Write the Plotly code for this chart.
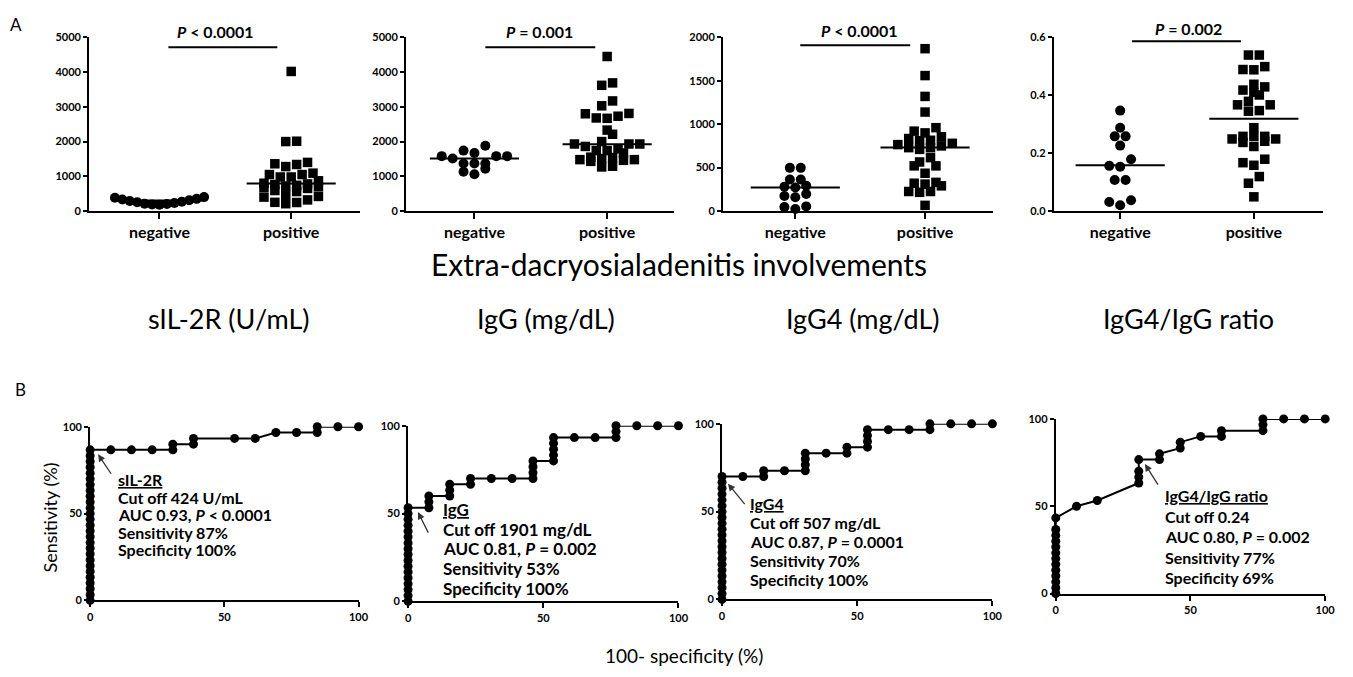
import numpy as np
import plotly.graph_objects as go

# ---------------- data ----------------
categories = ["negative", "positive"]

sil2r_neg = [400, 380, 350, 330, 310, 290, 270, 250, 230, 210, 200, 190, 180]
sil2r_pos = [4020, 2000, 2010, 1400, 1340, 1280, 1360, 1050, 980, 980, 1050, 1090, 870,
             800, 760, 720, 680, 700, 740, 780, 480, 420, 590, 560, 650, 400, 250, 210, 245, 320]
igg_neg = [1740, 1580, 1580, 1880, 1510, 1580, 1670, 1370, 1220, 1060, 1130, 1370, 1370]
igg_pos = [4450, 3620, 3690, 3170, 3030, 2810, 2730, 2670, 2680, 2800, 2330, 2210, 1930, 1930,
           2000, 1930, 1790, 1740, 1670, 1740, 1860, 1550, 1510, 1480, 1460, 1270, 1290, 1430, 1480, 1540]
igg4_neg = [497, 497, 362, 362, 279, 270, 290, 173, 158, 195, 53, 23, 45]
igg4_pos = [1870, 1560, 1320, 1140, 960, 920, 900, 855, 835, 810, 815, 780, 765, 730, 710, 730,
            750, 615, 565, 520, 520, 435, 320, 330, 310, 290, 225, 215, 225, 65]
ratio_neg = [0.347, 0.288, 0.258, 0.258, 0.226, 0.179, 0.153, 0.156, 0.107, 0.107, 0.037, 0.020, 0.031]
ratio_pos = [0.539, 0.539, 0.499, 0.488, 0.489, 0.438, 0.418, 0.401, 0.410, 0.429, 0.367, 0.347,
             0.345, 0.367, 0.379, 0.288, 0.258, 0.258, 0.249, 0.241, 0.223, 0.237, 0.249, 0.258,
             0.179, 0.158, 0.167, 0.119, 0.096, 0.049]

sil2r_median = [300, 790]
igg_median = [1510, 1920]
igg4_median = [271, 731]
ratio_median = [0.158, 0.319]

p_texts = ["<i>P</i> < 0.0001", "<i>P</i> = 0.001", "<i>P</i> < 0.0001", "<i>P</i> = 0.002"]
top_labels = ["sIL-2R (U/mL)", "IgG (mg/dL)", "IgG4 (mg/dL)", "IgG4/IgG ratio"]
top_yticks = [[0, 1000, 2000, 3000, 4000, 5000], [0, 1000, 2000, 3000, 4000, 5000],
              [0, 500, 1000, 1500, 2000], [0.0, 0.2, 0.4, 0.6]]

# ROC curves: 100-specificity (%) and sensitivity (%)
roc_sil2r_fpr = [0, 0, 0, 0, 0, 0, 0, 0, 0, 0, 0, 0, 0, 0, 0, 0, 0, 0, 0, 0, 0, 0, 0, 0, 0, 0, 0,
                 7.7, 15.4, 23.1, 30.8, 30.8, 38.5, 38.5, 53.8, 61.5, 69.2, 76.9, 84.6, 84.6, 92.3, 100]
roc_sil2r_tpr = [0, 3.3, 6.7, 10, 13.3, 16.7, 20, 23.3, 26.7, 30, 33.3, 36.7, 40, 43.3, 46.7, 50,
                 53.3, 56.7, 60, 63.3, 66.7, 70, 73.3, 76.7, 80, 83.3, 86.7,
                 86.7, 86.7, 86.7, 86.7, 90, 90, 93.3, 93.3, 93.3, 96.7, 96.7, 96.7, 100, 100, 100]
roc_igg_fpr = [0, 0, 0, 0, 0, 0, 0, 0, 0, 0, 0, 0, 0, 0, 0, 0, 0,
               7.7, 7.7, 7.7, 15.4, 15.4, 15.4, 23.1, 23.1, 30.8, 38.5, 46.2, 46.2, 46.2, 46.2,
               53.8, 53.8, 53.8, 53.8, 53.8, 61.5, 69.2, 76.9, 76.9, 76.9, 84.6, 92.3, 100]
roc_igg_tpr = [0, 3.3, 6.7, 10, 13.3, 16.7, 20, 23.3, 26.7, 30, 33.3, 36.7, 40, 43.3, 46.7, 50, 53.3,
               53.3, 56.7, 60, 60, 63.3, 66.7, 66.7, 70, 70, 70, 70, 73.3, 76.7, 80,
               80, 83.3, 86.7, 90, 93.3, 93.3, 93.3, 93.3, 96.7, 100, 100, 100, 100]
roc_igg4_fpr = [0, 0, 0, 0, 0, 0, 0, 0, 0, 0, 0, 0, 0, 0, 0, 0, 0, 0, 0, 0, 0, 0,
                7.7, 15.4, 15.4, 23.1, 30.8, 30.8, 30.8, 30.8, 38.5, 46.2, 46.2, 53.8, 53.8, 53.8,
                53.8, 61.5, 69.2, 76.9, 76.9, 84.6, 92.3, 100]
roc_igg4_tpr = [0, 3.3, 6.7, 10, 13.3, 16.7, 20, 23.3, 26.7, 30, 33.3, 36.7, 40, 43.3, 46.7, 50,
                53.3, 56.7, 60, 63.3, 66.7, 70,
                70, 70, 73.3, 73.3, 73.3, 76.7, 80, 83.3, 83.3, 83.3, 86.7, 86.7, 90, 93.3,
                96.7, 96.7, 96.7, 96.7, 100, 100, 100, 100]
roc_ratio_fpr = [0, 0, 0, 0, 0, 0, 0, 0, 0, 0, 0, 0, 0,
                 7.7, 15.4, 30.8, 30.8, 30.8, 30.8, 38.5, 38.5, 46.2, 46.2, 53.8, 61.5, 61.5,
                 76.9, 76.9, 76.9, 84.6, 92.3, 100]
roc_ratio_tpr = [0, 3.3, 6.7, 10, 13.3, 16.7, 20, 23.3, 26.7, 30, 33.3, 36.7, 43.3,
                 50, 53.3, 63.3, 66.7, 70, 76.7, 76.7, 80, 83.3, 86.7, 90, 90, 93.3,
                 93.3, 96.7, 100, 100, 100, 100]

roc_texts = [
    ["<u>sIL-2R</u>", "Cut off 424 U/mL", "AUC 0.93, <i>P</i> < 0.0001", "Sensitivity 87%", "Specificity 100%"],
    ["<u>IgG</u>", "Cut off 1901 mg/dL", "AUC 0.81, <i>P</i> = 0.002", "Sensitivity 53%", "Specificity 100%"],
    ["<u>IgG4</u>", "Cut off 507 mg/dL", "AUC 0.87, <i>P</i> = 0.0001", "Sensitivity 70%", "Specificity 100%"],
    ["<u>IgG4/IgG ratio</u>", "Cut off 0.24", "AUC 0.80, <i>P</i> = 0.002", "Sensitivity 77%", "Specificity 69%"],
]

# ---------------- layout helpers ----------------
W, H = 1353, 677
FONT = "Lato"


def fx(px):
    return px / W


def fy(py):
    return 1 - py / H


def swarm(values, ymax, unit_px, bin_frac=0.045, step_px=11.0, max_w=90.0):
    vals = np.asarray(values, float)
    order = np.argsort(vals)
    offs = np.zeros(len(vals))
    rows, cur = [], [order[0]]
    for idx in order[1:]:
        if vals[idx] - vals[cur[0]] < bin_frac * ymax:
            cur.append(idx)
        else:
            rows.append(cur)
            cur = [idx]
    rows.append(cur)
    for row in rows:
        n = len(row)
        step = min(step_px, max_w / (n - 1)) if n > 1 else 0
        slots = (np.arange(n) - (n - 1) / 2) * step
        slot_order = sorted(range(n), key=lambda k: (abs(slots[k]), slots[k]))
        for rank, idx in enumerate(row):
            offs[idx] = slots[slot_order[rank]]
    return offs / unit_px


fig = go.Figure()
layout = dict(width=W, height=H, margin=dict(l=0, r=0, t=0, b=0), showlegend=False,
              plot_bgcolor="white", paper_bgcolor="white", font=dict(family=FONT, color="black"))
annotations, shapes = [], []

axis_common = dict(showline=True, linecolor="black", linewidth=2, ticks="outside", ticklen=5,
                   tickwidth=2, tickcolor="black", showgrid=False, zeroline=False, fixedrange=True)

# top panels: px boxes (x0, x1, ytop, ybot, c_neg, c_pos)
top_boxes = [(87, 360, 31, 208, 158, 291), (407, 678, 31, 208, 476, 610),
             (727, 1000, 31, 208, 800, 931), (1061, 1333, 31, 208, 1128, 1263)]
top_data = [(sil2r_neg, sil2r_pos, sil2r_median), (igg_neg, igg_pos, igg_median),
            (igg4_neg, igg4_pos, igg4_median), (ratio_neg, ratio_pos, ratio_median)]
bracket_px = [(167, 277, 41, 215, 25), (487, 598, 41, 542, 25),
              (805, 916, 39, 865, 24), (1140, 1250, 35, 1197, 22)]
label_cx = [228, 548, 868, 1197]

for i, ((x0, x1, yt, yb, c0, c1), (neg, pos, med)) in enumerate(zip(top_boxes, top_data)):
    k = i + 1
    xa, ya = f"x{k}", f"y{k}"
    unit = c1 - c0
    ymax = top_yticks[i][-1]
    layout[f"xaxis{k}"] = dict(axis_common, domain=[fx(x0), fx(x1)], anchor=ya,
                               range=[(x0 - c0) / unit, (x1 - c0) / unit],
                               tickvals=[0, 1], ticktext=categories, ticklen=6,
                               tickfont=dict(family=FONT, size=16, weight="bold"))
    layout[f"yaxis{k}"] = dict(axis_common, domain=[fy(yb), fy(yt)], anchor=xa,
                               range=[0, ymax], tickvals=top_yticks[i], ticklen=4,
                               tickformat=".1f" if ymax < 1 else "d",
                               tickfont=dict(family=FONT, size=11, weight="bold"))
    for g, (vals, sym) in enumerate([(neg, "circle"), (pos, "square")]):
        xo = g + swarm(vals, ymax, unit)
        fig.add_trace(go.Scatter(x=xo, y=vals, mode="markers", xaxis=xa, yaxis=ya, cliponaxis=False,
                                 marker=dict(symbol=sym, size=10 if sym == "circle" else 9.5,
                                             color="black", line=dict(width=0)),
                                 hoverinfo="skip"))
        hw = 45 / unit
        fig.add_trace(go.Scatter(x=[g - hw, g + hw], y=[med[g], med[g]], mode="lines",
                                 xaxis=xa, yaxis=ya, cliponaxis=False,
                                 line=dict(color="black", width=2), hoverinfo="skip"))
    bx0, bx1, by, tx, ty = bracket_px[i]
    shapes.append(dict(type="line", xref="paper", yref="paper", x0=fx(bx0), x1=fx(bx1),
                       y0=fy(by), y1=fy(by), line=dict(color="black", width=2)))
    annotations.append(dict(text=p_texts[i], xref="paper", yref="paper", x=fx(tx), y=fy(ty),
                            showarrow=False, xanchor="center", yanchor="middle",
                            font=dict(family=FONT, size=16, weight="bold")))
    annotations.append(dict(text=top_labels[i], xref="paper", yref="paper", x=fx(label_cx[i]),
                            y=fy(318), showarrow=False, xanchor="center", yanchor="middle",
                            font=dict(family=FONT, size=27)))

annotations.append(dict(text="Extra-dacryosialadenitis involvements", xref="paper", yref="paper",
                        x=fx(683), y=fy(262), showarrow=False, xanchor="center", yanchor="middle",
                        font=dict(family=FONT, size=30)))

# bottom ROC panels
bot_boxes = [(88, 359, 428, 605), (409, 682, 427, 606), (726, 999, 425, 604), (1063, 1335, 420, 598)]
roc_data = [(roc_sil2r_fpr, roc_sil2r_tpr), (roc_igg_fpr, roc_igg_tpr),
            (roc_igg4_fpr, roc_igg4_tpr), (roc_ratio_fpr, roc_ratio_tpr)]
text_pos = [(114, 482, 17.8, 16), (442, 512, 20.3, 17), (752, 506, 19.5, 16), (1171, 498, 21, 16)]
arrows = [(96, 456, 14, 21), (419, 515, 11, 22), (732, 486, 18, 22), (1153, 466, 14, 22)]

for i, ((x0, x1, yt, yb), (fpr, tpr)) in enumerate(zip(bot_boxes, roc_data)):
    k = i + 5
    xa, ya = f"x{k}", f"y{k}"
    layout[f"xaxis{k}"] = dict(axis_common, domain=[fx(x0), fx(x1)], anchor=ya, range=[0, 100],
                               tickvals=[0, 50, 100], tickfont=dict(family=FONT, size=11, weight="bold"))
    layout[f"yaxis{k}"] = dict(axis_common, domain=[fy(yb), fy(yt)], anchor=xa, range=[0, 100],
                               tickvals=[0, 50, 100], ticklen=4,
                               tickfont=dict(family=FONT, size=11, weight="bold"))
    fig.add_trace(go.Scatter(x=fpr, y=tpr, mode="lines+markers", xaxis=xa, yaxis=ya, cliponaxis=False,
                             line=dict(color="black", width=2),
                             marker=dict(symbol="circle", size=9, color="black"), hoverinfo="skip"))
    tx, ty, dy, fs = text_pos[i]
    for j, line in enumerate(roc_texts[i]):
        annotations.append(dict(text=line, xref="paper", yref="paper", x=fx(tx), y=fy(ty + j * dy),
                                showarrow=False, xanchor="left", yanchor="middle",
                                font=dict(family=FONT, size=fs, weight="bold")))
    hx, hy, ax, ay = arrows[i]
    annotations.append(dict(text="", xref="paper", yref="paper", x=fx(hx), y=fy(hy), ax=ax, ay=ay,
                            showarrow=True, arrowhead=2, arrowsize=1.1, arrowwidth=1.3,
                            arrowcolor="#333", standoff=0, startstandoff=0))

annotations.append(dict(text="Sensitivity (%)", xref="paper", yref="paper", x=fx(47), y=fy(521),
                        showarrow=False, textangle=-90, xanchor="center", yanchor="middle",
                        font=dict(family=FONT, size=18)))
annotations.append(dict(text="100- specificity (%)", xref="paper", yref="paper", x=fx(688), y=fy(661),
                        showarrow=False, xanchor="center", yanchor="middle",
                        font=dict(family=FONT, size=19)))
annotations.append(dict(text="A", xref="paper", yref="paper", x=fx(13), y=fy(18), showarrow=False,
                        xanchor="center", yanchor="middle", font=dict(family=FONT, size=17)))
annotations.append(dict(text="B", xref="paper", yref="paper", x=fx(18), y=fy(390), showarrow=False,
                        xanchor="center", yanchor="middle", font=dict(family=FONT, size=17)))

layout["annotations"] = annotations
layout["shapes"] = shapes
fig.update_layout(**layout)
fig.write_html("out.html", config={"displayModeBar": False},
               post_script="document.body.style.margin='0';document.body.style.overflow='hidden';")
